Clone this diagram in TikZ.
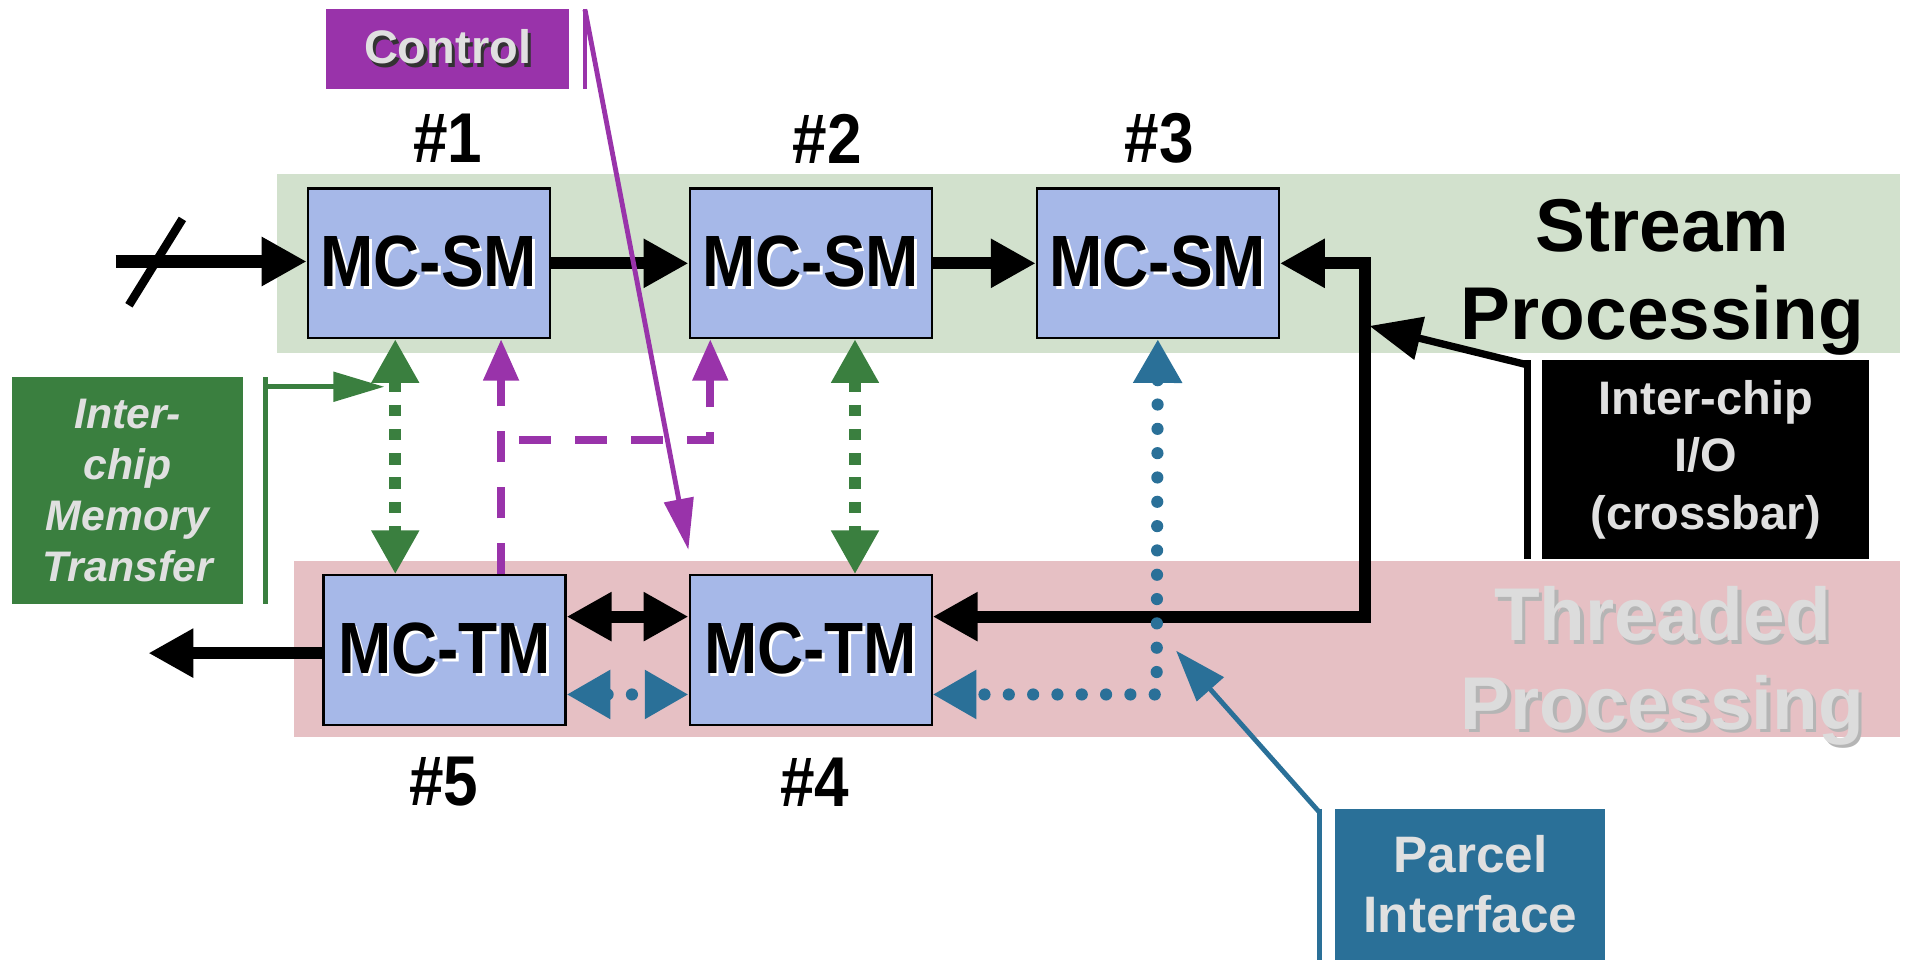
\documentclass[tikz,border=0pt]{standalone}
\usepackage{fontspec}
\usepackage{graphicx}
\setmainfont{Liberation Sans}
\usetikzlibrary{arrows.meta,calc}
\definecolor{bandg}{HTML}{D2E1CD}
\definecolor{bandp}{HTML}{E6C0C4}
\definecolor{boxb}{HTML}{A6B8E8}
\definecolor{cpurple}{HTML}{9933AA}
\definecolor{cgreen}{HTML}{3A7F3F}
\definecolor{cblue}{HTML}{2A7098}
\definecolor{ltxt}{HTML}{E0E0E0}
\definecolor{thrtxt}{HTML}{DCDCDC}
\definecolor{thrsh}{HTML}{B5B5B5}
\newcommand{\shd}[2]{\rlap{\kern1.5pt\raisebox{-1.5pt}{\color{#1}#2}}#2}
\newcommand{\nar}[1]{\scalebox{0.88}[1]{#1}}
\tikzset{
  BT/.tip={Triangle[length=0.74cm,width=0.76cm]},
  GT/.tip={Triangle[length=0.72cm,width=0.74cm]},
  PT/.tip={Triangle[length=0.68cm,width=0.56cm]},
  UT/.tip={Triangle[length=0.72cm,width=0.76cm]},
  ST/.tip={Triangle[length=0.84cm,width=0.48cm]},
  IT/.tip={Triangle[length=0.85cm,width=0.7cm]},
  PBT/.tip={Triangle[length=0.85cm,width=0.58cm]},
  mcbox/.style={draw=black, line width=1pt, fill=boxb, minimum width=3.98cm, minimum height=2.46cm, inner sep=0pt, font=\fontsize{34}{40}\selectfont\bfseries},
  numlbl/.style={inner sep=0pt, font=\fontsize{33}{38}\selectfont\bfseries},
  biglbl/.style={inner sep=0pt, align=center, font=\fontsize{35}{41.5}\selectfont\bfseries},
  callbox/.style={inner sep=0pt, align=center, text=ltxt},
  blkline/.style={line width=0.2cm},
  gdot/.style={cgreen, line width=0.19cm, dash pattern=on 0.19cm off 0.21cm},
  pdash/.style={cpurple, line width=0.126cm, dash pattern=on 0.52cm off 0.4cm},
  bdot/.style={cblue, line width=0.2cm, line cap=round, dash pattern=on 0pt off 0.4cm},
  thinln/.style={line width=0.08cm}
}
\begin{document}
\begin{tikzpicture}[x=0.02cm,y=-0.02cm]
\useasboundingbox (0,0) rectangle (1568,789);
% bands
\fill[bandg] (228,143) rectangle (1562,290);
\fill[bandp] (242,461) rectangle (1562,606);
% band labels
\node[biglbl] (stream) at (1367,228) {Stream\\Processing};
\node[biglbl, text=thrtxt] (thr) at (1367,549) {\shd{thrsh}{Threaded}\\\shd{thrsh}{Processing}};
% boxes
\node[mcbox] (sm1) at (352.5,216.5) {\nar{\shd{white}{MC-SM}}};
\node[mcbox] (sm2) at (666.5,216.5) {\nar{\shd{white}{MC-SM}}};
\node[mcbox] (sm3) at (952,216.5) {\nar{\shd{white}{MC-SM}}};
\node[mcbox] (tm5) at (365.5,534.5) {\nar{\shd{white}{MC-TM}}};
\node[mcbox] (tm4) at (666.5,534.5) {\nar{\shd{white}{MC-TM}}};
% numbers
\node[numlbl] (n1) at (368,114) {\nar{\#1}};
\node[numlbl] (n2) at (680,114) {\nar{\#2}};
\node[numlbl] (n3) at (953,114) {\nar{\#3}};
\node[numlbl] (n5) at (365,643) {\nar{\#5}};
\node[numlbl] (n4) at (670,643) {\nar{\#4}};
% callouts
\node[callbox, fill=cpurple, minimum width=4cm, minimum height=1.32cm, font=\fontsize{22}{26}\selectfont\bfseries] (ctrl) at (368,40) {\shd{black!80}{Control}};
\draw[cpurple, thinln] (481,7) -- (481,73);
\node[callbox, fill=black, minimum width=5.38cm, minimum height=3.28cm, font=\fontsize{22}{27}\selectfont\bfseries] (io) at (1402.5,378) {Inter-chip\\I/O\\(crossbar)};
\draw[line width=0.12cm] (1256,296) -- (1256,460);
\node[callbox, fill=cgreen, minimum width=3.8cm, minimum height=3.74cm, font=\fontsize{20}{23.9}\selectfont\bfseries\itshape] (mem) at (105,403.5) {Inter-\\chip\\Memory\\Transfer};
\draw[cgreen, thinln] (218,310) -- (218,497);
\node[callbox, fill=cblue, minimum width=4.44cm, minimum height=2.48cm, font=\fontsize{24}{28.5}\selectfont\bfseries] (parcel) at (1209,727) {Parcel\\Interface};
\draw[cblue, thinln] (1085,665) -- (1085,789);
% coordinates
\coordinate (inp) at (95,215);
\coordinate (outp) at (122,537);
\coordinate (rt) at (1122,216.5);
\coordinate (rb) at (1122,507);
\coordinate (pb) at (951,571);
\coordinate (pbr) at (427,362);
\coordinate (p2) at ($(sm2.south)+(-82.5,0)$);
\coordinate (ctrlbar) at (481,8);
\coordinate (ctip) at (566,452);
\coordinate (iobar) at (1256,300);
\coordinate (iotip) at (1126,268);
\coordinate (mbar) at (218,318);
\coordinate (mtip) at (316,318);
\coordinate (pbar) at (1085,668);
\coordinate (ptip) at (967,535);
% black connectors
\draw[blkline,-BT] (inp) -- (inp -| sm1.west);
\draw[line width=0.14cm] (106,251) -- (150,180);
\draw[blkline,-BT] (sm1.east) -- (sm2.west);
\draw[blkline,-BT] (sm2.east) -- (sm3.west);
\draw[blkline,BT-BT,line join=miter] (sm3.east) -- (rt) -- (rb) -- (tm4.east |- rb);
\draw[blkline,-BT] (tm5.west |- outp) -- (outp);
\draw[blkline,BT-BT] (tm5.east |- rb) -- (tm4.west |- rb);
% blue dotted
\draw[bdot,UT-UT] (sm3.south) -- (pb) -- (tm4.east |- pb);
\draw[bdot,UT-UT] (tm5.east |- pb) -- (tm4.west |- pb);
% green dotted
\draw[gdot,GT-GT] ($(sm1.south)+(-27.5,0)$) -- ($(tm5.north)+(-40.5,0)$);
\draw[gdot,GT-GT] ($(sm2.south)+(36.5,0)$) -- ($(tm4.north)+(36.5,0)$);
% purple dashed
\draw[pdash,-PT] ($(tm5.north)+(46.5,0)$) -- ($(sm1.south)+(59.5,0)$);
\draw[pdash,-PT] (pbr) -- (pbr -| p2) -- (p2);
% callout arrows
\draw[cpurple,thinln,-ST] (ctrlbar) -- (ctip);
\draw[line width=0.12cm,-IT] (iobar) -- (iotip);
\draw[cgreen,thinln,-ST] (mbar) -- (mtip);
\draw[cblue,thinln,-PBT] (pbar) -- (ptip);
\end{tikzpicture}
\end{document}
